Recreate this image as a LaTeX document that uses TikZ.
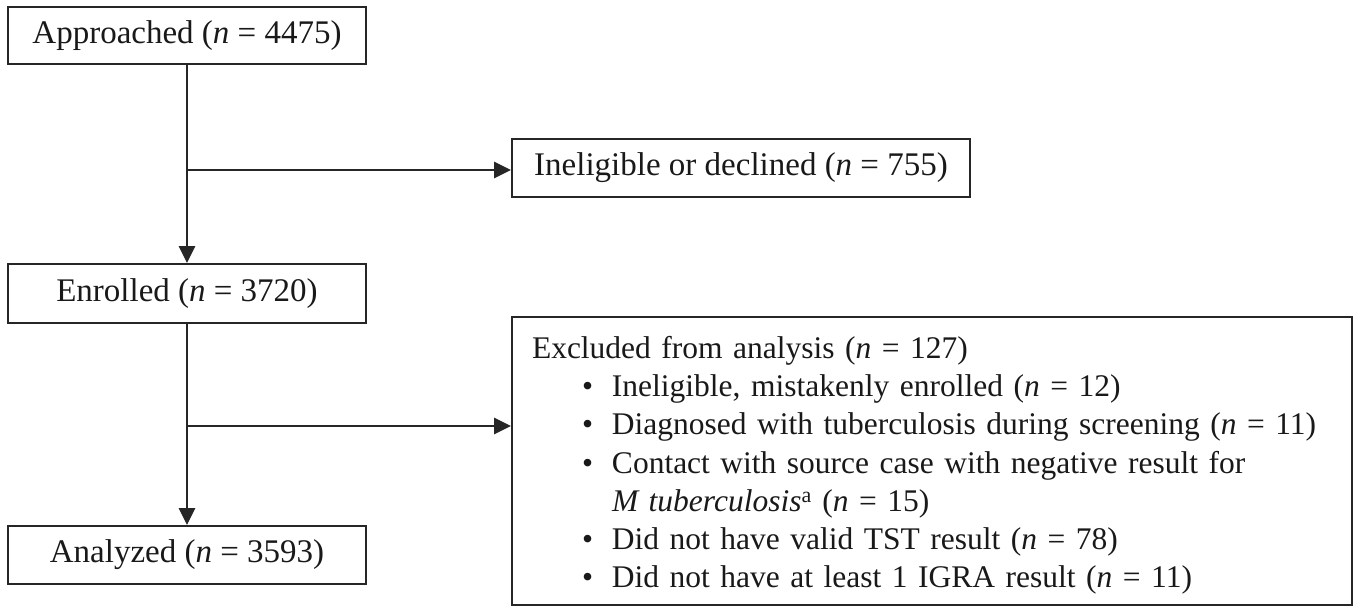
\documentclass[tikz,border=0pt]{standalone}
\usepackage{fontspec}
\setmainfont{Liberation Serif}
\usetikzlibrary{arrows.meta}
\begin{document}
\begin{tikzpicture}[x=1pt,y=-1pt,
  box/.style={draw=black!85, line width=1.8pt, inner sep=0pt, text=black!90, font=\fontsize{33}{38.5}\selectfont},
  exbox/.style={box, font=\fontsize{31.5}{38.3}\selectfont},
  conn/.style={draw=black!85, line width=2.6pt, -{Triangle[length=17pt,width=16pt]}}]
\useasboundingbox (0,0) rectangle (1357,608);
\node[box, minimum width=358pt, minimum height=57pt] (appr) at (187,35.5) {Approached (\textit{n} = 4475)};
\node[box, minimum width=358pt, minimum height=59pt] (enr) at (187,293.5) {Enrolled (\textit{n} = 3720)};
\node[box, minimum width=358pt, minimum height=58pt] (ana) at (187,555) {Analyzed (\textit{n} = 3593)};
\node[box, minimum width=458pt, minimum height=58pt] (inel) at (741,168) {Ineligible or declined (\textit{n} = 755)};
\node[exbox, minimum width=840pt, minimum height=288pt, text width=800pt, inner xsep=20pt, align=left] (excl) at (932,461) {%
\rule{0pt}{30.8pt}Excluded from analysis (\textit{n} = 127)\\
\hspace*{50pt}\makebox[30pt][l]{•}Ineligible, mistakenly enrolled (\textit{n} = 12)\\
\hspace*{50pt}\makebox[30pt][l]{•}Diagnosed with tuberculosis during screening (\textit{n} = 11)\\
\hspace*{50pt}\makebox[30pt][l]{•}Contact with source case with negative result for\\
\hspace*{80pt}\textit{M tuberculosis}\textsuperscript{a} (\textit{n} = 15)\\
\hspace*{50pt}\makebox[30pt][l]{•}Did not have valid TST result (\textit{n} = 78)\\
\hspace*{50pt}\makebox[30pt][l]{•}Did not have at least 1 IGRA result (\textit{n} = 11)};
\coordinate (b1) at (187,170);
\coordinate (b2) at (187,426);
\draw[conn] (appr.south) -- (enr.north);
\draw[conn] (b1) -- (b1 -| inel.west);
\draw[conn] (enr.south) -- (ana.north);
\draw[conn] (b2) -- (b2 -| excl.west);
\end{tikzpicture}
\end{document}
